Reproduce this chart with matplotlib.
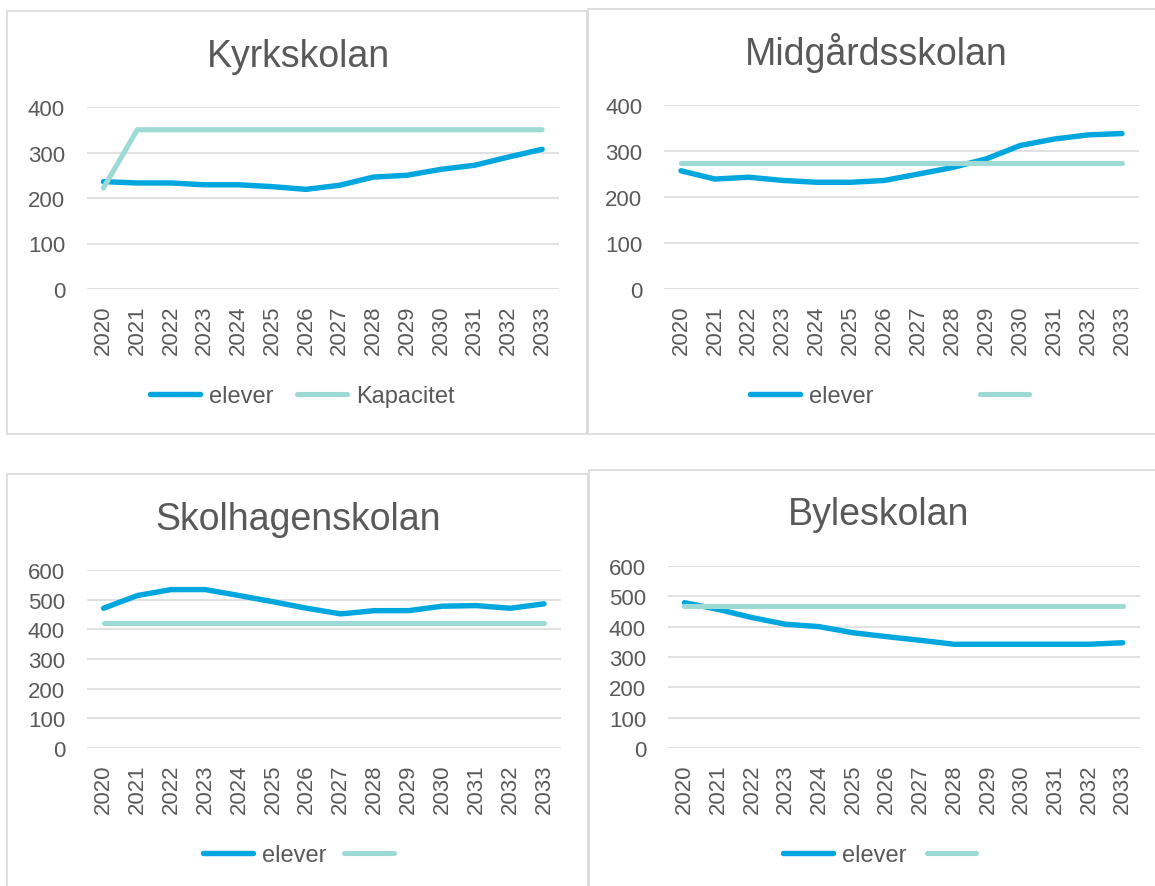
import matplotlib
matplotlib.use("Agg")
import matplotlib.pyplot as plt
from matplotlib.patches import Rectangle

plt.rcParams['font.family'] = ['Liberation Sans', 'DejaVu Sans']

years = ["2020", "2021", "2022", "2023", "2024", "2025", "2026",
         "2027", "2028", "2029", "2030", "2031", "2032", "2033"]

kyrk_elever = [236, 233, 233, 229, 229, 225, 219, 228, 246, 250, 263, 272, 290, 307]
kyrk_kap = [222, 350, 350, 350, 350, 350, 350, 350, 350, 350, 350, 350, 350, 350]

midg_elever = [257, 239, 243, 236, 232, 232, 236, 250, 264, 283, 312, 326, 335, 338]
midg_kap = [274, 274, 274, 274, 274, 274, 274, 274, 274, 274, 274, 274, 274, 274]

skol_elever = [471, 514, 534, 534, 514, 493, 471, 452, 463, 463, 478, 480, 471, 486]
skol_kap = [423, 423, 423, 423, 423, 423, 423, 423, 423, 423, 423, 423, 423, 423]

byle_elever = [479, 457, 430, 408, 400, 380, 367, 355, 342, 342, 342, 342, 342, 347]
byle_kap = [467, 467, 467, 467, 467, 467, 467, 467, 467, 467, 467, 467, 467, 467]

BLUE = "#00A6DE"
TEAL = "#9DDAD6"
GRID = "#D9D9D9"
TXT = "#595959"

W, H = 1155, 887
fig = plt.figure(figsize=(W / 100, H / 100), dpi=100)


def fx(px):
    return px / W


def fy(py):
    return 1 - py / H


# panel frames (x0, y0, x1, y1) in pixels
frames = [(7, 12, 587, 435), (588, 10, 1160, 435),
          (7, 475, 588, 895), (589, 471, 1160, 895)]
for x0, y0, x1, y1 in frames:
    fig.patches.append(Rectangle((fx(x0), fy(y1)), fx(x1) - fx(x0), fy(y0) - fy(y1),
                                 transform=fig.transFigure, fill=False,
                                 edgecolor=GRID, linewidth=1.2))

# name, elever, kapacitet, kap label, ymax, axes box (left, right, top, bottom px),
# title (x, baseline y), legend (left x, center y), column spacing
panels = [
    ("Kyrkskolan", kyrk_elever, kyrk_kap, "Kapacitet", 400,
     (86.6, 559, 108, 290), (298, 67), (150, 397), 1.0),
    ("Midgårdsskolan", midg_elever, midg_kap, "", 400,
     (664, 1139, 106, 290), (876, 65), (750, 397), 4.5),
    ("Skolhagenskolan", skol_elever, skol_kap, "", 600,
     (86.6, 561, 571, 749), (298, 530), (203, 856), 0.75),
    ("Byleskolan", byle_elever, byle_kap, "", 600,
     (667.6, 1139.6, 567, 749), (879, 525), (783, 856), 0.85),
]

for name, elever, kap, kap_label, ymax, box, title_pos, leg_pos, colsp in panels:
    l, r, t, b = box
    ax = fig.add_axes([fx(l), fy(b), fx(r) - fx(l), fy(t) - fy(b)])
    x = list(range(len(years)))
    h1, = ax.plot(x, elever, color=BLUE, lw=3.9, solid_capstyle="round",
                  solid_joinstyle="round", zorder=3)
    h2, = ax.plot(x, kap, color=TEAL, lw=3.7, solid_capstyle="round",
                  solid_joinstyle="round", zorder=4)

    ax.set_xlim(-0.5, len(years) - 0.5)
    ax.set_ylim(0, ymax)
    ax.set_yticks(range(0, ymax + 1, 100))
    ax.set_xticks(x)
    ax.set_xticklabels(years, rotation=90)
    ax.grid(axis="y", color=GRID, lw=1.1)
    ax.set_axisbelow(True)
    for s in ax.spines.values():
        s.set_visible(False)
    ax.tick_params(axis="y", length=0, pad=15.5, labelsize=16, labelcolor=TXT)
    ax.tick_params(axis="x", length=0, pad=11, labelsize=16, labelcolor=TXT)

    fig.text(fx(title_pos[0]), fy(title_pos[1]), name, ha="center", va="baseline",
             fontsize=27, color=TXT)

    ax.legend([h1, h2], ["elever", kap_label], loc="center left",
              bbox_to_anchor=(fx(leg_pos[0]), fy(leg_pos[1])),
              bbox_transform=fig.transFigure, ncol=2, frameon=False,
              fontsize=17, labelcolor=TXT, borderpad=0, borderaxespad=0,
              handlelength=2.1, handletextpad=0.4, columnspacing=colsp)

plt.savefig("out.png", dpi=100)
plt.close()
